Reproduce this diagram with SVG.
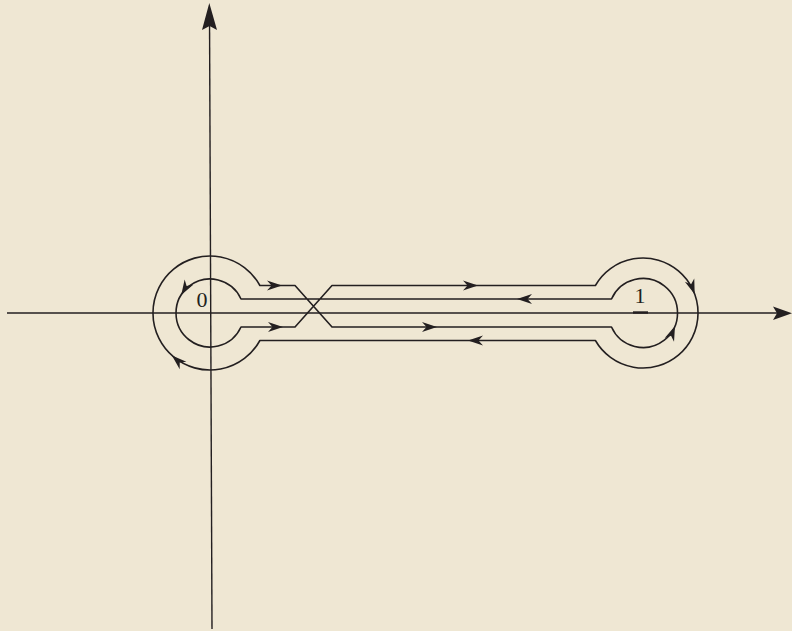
<svg xmlns="http://www.w3.org/2000/svg" width="792" height="631" viewBox="0 0 792 631">
<style>
.ln{fill:none;stroke:#231f20;stroke-width:1.6;stroke-linejoin:round}
.ax{fill:none;stroke:#231f20;stroke-width:1.4}
.ah{fill:#231f20}
.lbl{font-family:"Liberation Serif","Times New Roman",serif;font-size:22px;fill:#231f20;text-anchor:middle}
</style>
<defs>
<path id="a" class="ah" d="M0,0 L-15,-5 L-10.5,0 L-15,5 Z"/>
</defs>
<rect width="792" height="631" fill="#efe7d3"/>
<g id="axes">
<line class="ax" x1="7" y1="313" x2="785" y2="313"/>
<line class="ax" x1="209.5" y1="12" x2="212" y2="629"/>
<path class="ah" d="M209.3,3 L217,30 L209.6,26 L202,30 Z"/>
<path class="ah" d="M792,313.3 L773,320 L777,313.3 L773,306.5 Z"/>
<line x1="633" y1="312.5" x2="648" y2="312.5" stroke="#231f20" stroke-width="2.4"/>
</g>
<g id="contour">
<path class="ln" d="M259.9,285.5 H295 L332,327 H611.5 A34.5 34.5 0 1 0 611.5,299 H241 A34 34 0 1 0 241,327 H295 L332,285.5 H595.4 A55 55 0 1 1 595.4,340.5 H259.9 A57 57 0 1 1 259.9,285.5 Z"/>
</g>
<g id="arrows">
<use href="#a" transform="translate(282,285.5)"/>
<use href="#a" transform="translate(283,327)"/>
<use href="#a" transform="translate(478,285.5)"/>
<use href="#a" transform="translate(517,299) rotate(180)"/>
<use href="#a" transform="translate(437,327)"/>
<use href="#a" transform="translate(468,340.5) rotate(180)"/>
<use href="#a" transform="translate(181.2,295) rotate(121)"/>
<use href="#a" transform="translate(171.9,355.4) rotate(-138)"/>
<use href="#a" transform="translate(694.7,294.2) rotate(70)"/>
<use href="#a" transform="translate(675,325.9) rotate(-68)"/>
</g>
<g id="label-0"><text class="lbl" x="202" y="307">0</text></g>
<g id="label-1"><text class="lbl" x="640" y="303">1</text></g>
</svg>
